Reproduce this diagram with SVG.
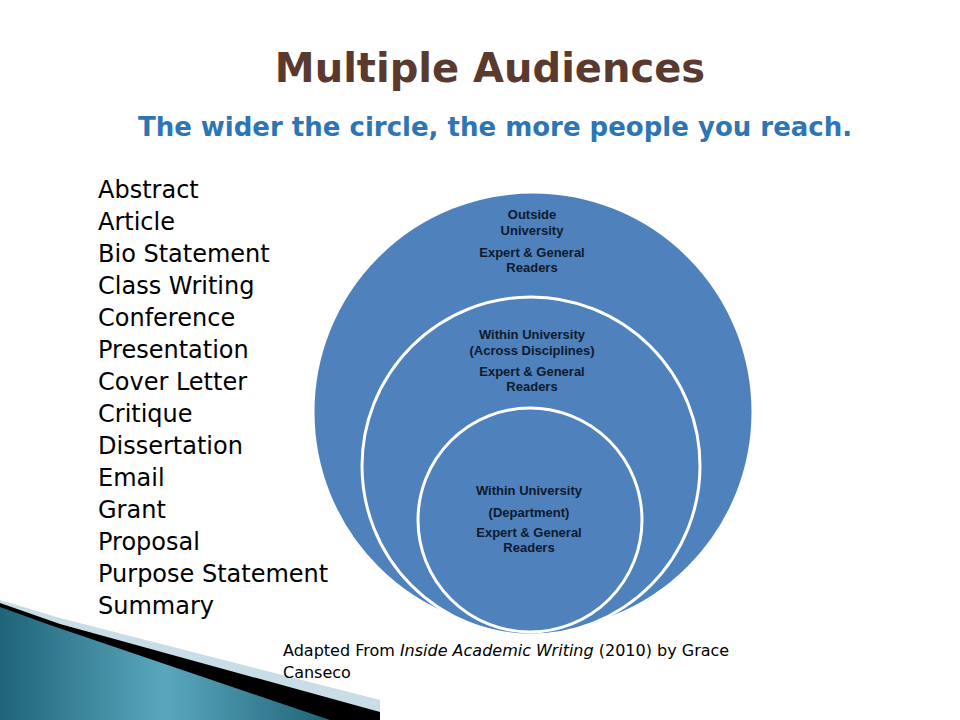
<svg xmlns="http://www.w3.org/2000/svg" width="960" height="720" viewBox="0 0 960 720">
<defs>
<linearGradient id="teal" x1="0" y1="0" x2="1" y2="0">
<stop offset="0" stop-color="#1f6478"/><stop offset="0.5" stop-color="#5aa7bd"/><stop offset="1" stop-color="#1f6478"/>
</linearGradient>
<style>
.list{font-family:"DejaVu Sans",sans-serif;font-size:24px;fill:#000}
.c{font-family:"Liberation Sans",Arial,sans-serif;font-weight:bold;font-size:13px;fill:#0d1a2e;text-anchor:middle}
.ring{fill:#4f81bd;stroke:#fff;stroke-width:3}
</style>
</defs>
<rect width="960" height="720" fill="#fff"/>
<g id="decoration">
<polygon points="0,600 60,618 380,700 380,720 0,720" fill="#c9dde6"/>
<polygon points="0,603 60,624 380,712 380,720 0,720" fill="#000"/>
<polygon points="0,607 50,625 330,720 0,720" fill="url(#teal)"/>
</g>
<text x="490" y="82" text-anchor="middle" font-family="DejaVu Sans,sans-serif" font-weight="bold" font-size="40" fill="#5a3a2e">Multiple Audiences</text>
<text x="495" y="136" text-anchor="middle" font-family="DejaVu Sans,sans-serif" font-weight="bold" font-size="26" fill="#2e75b6">The wider the circle, the more people you reach.</text>
<g id="outer"><circle class="ring" cx="533" cy="412" r="220" stroke="none"/>
<text class="c" x="532" y="219">Outside</text><text class="c" x="532" y="235">University</text>
<text class="c" x="532" y="257">Expert &amp; General</text><text class="c" x="532" y="272">Readers</text></g>
<g id="middle"><circle class="ring" cx="531" cy="466" r="169"/>
<text class="c" x="532" y="339">Within University</text><text class="c" x="532" y="355">(Across Disciplines)</text>
<text class="c" x="532" y="376">Expert &amp; General</text><text class="c" x="532" y="391">Readers</text></g>
<g id="inner"><circle class="ring" cx="530" cy="520" r="112"/>
<text class="c" x="529" y="495">Within  University</text><text class="c" x="529" y="517">(Department)</text>
<text class="c" x="529" y="537">Expert &amp; General</text><text class="c" x="529" y="552">Readers</text></g>
<g id="list" class="list">
<text x="98" y="198">Abstract</text><text x="98" y="230">Article</text><text x="98" y="262">Bio Statement</text>
<text x="98" y="294">Class Writing</text><text x="98" y="326">Conference</text><text x="98" y="358">Presentation</text>
<text x="98" y="390">Cover Letter</text><text x="98" y="422">Critique</text><text x="98" y="454">Dissertation</text>
<text x="98" y="486">Email</text><text x="98" y="518">Grant</text><text x="98" y="550">Proposal</text>
<text x="98" y="582">Purpose Statement</text><text x="98" y="614">Summary</text>
</g>
<text x="283" y="656" font-family="DejaVu Sans,sans-serif" font-size="16">Adapted From <tspan font-style="italic">Inside Academic Writing</tspan> (2010) by Grace</text>
<text x="283" y="678" font-family="DejaVu Sans,sans-serif" font-size="16">Canseco</text>
</svg>
